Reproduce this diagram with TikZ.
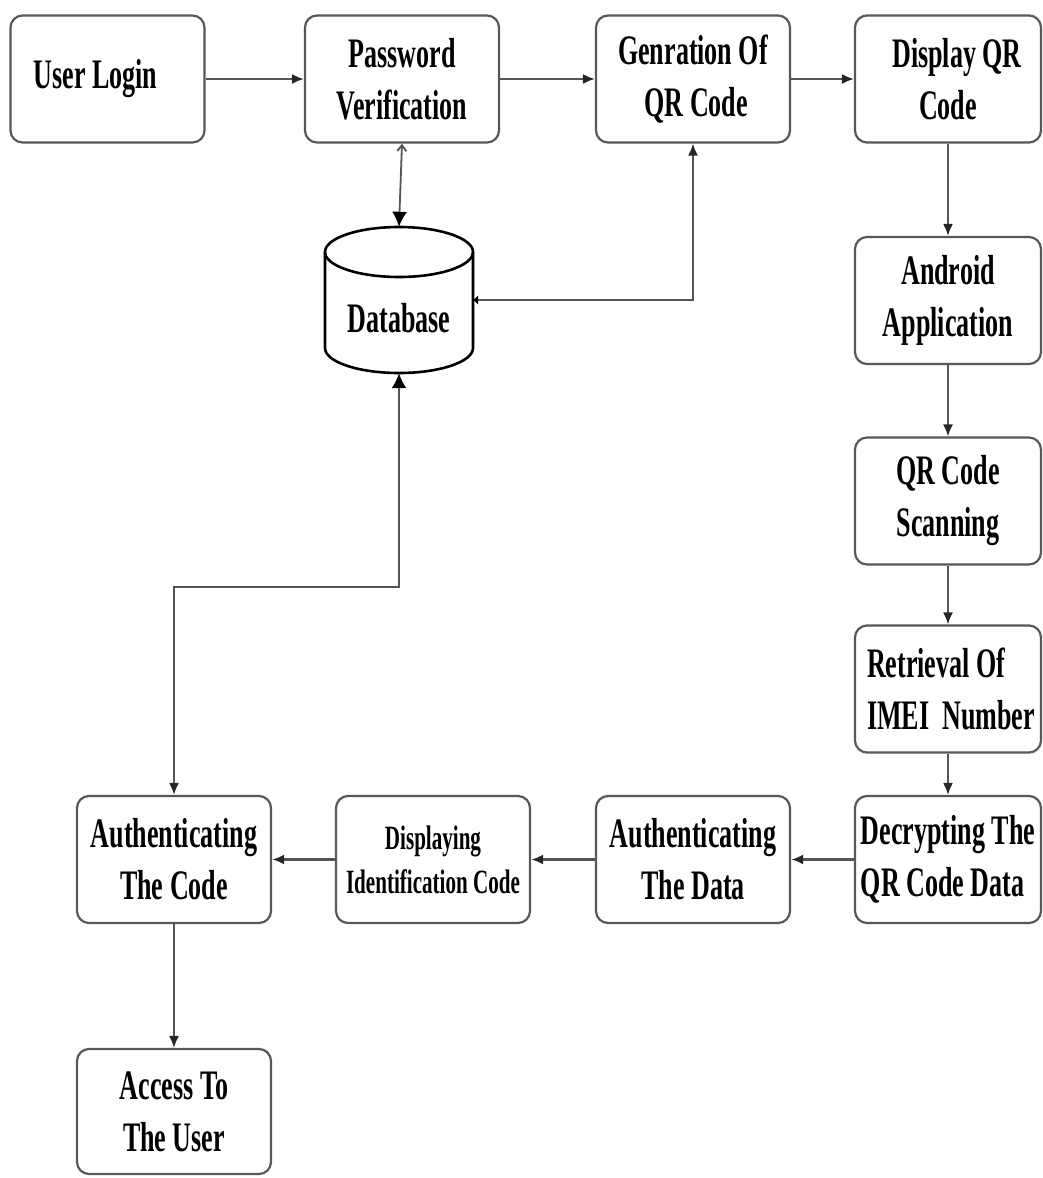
\documentclass[tikz,border=0pt]{standalone}
\usepackage{fontspec}
\setmainfont{Liberation Serif}[FakeStretch=0.62]
\usetikzlibrary{arrows.meta}
\definecolor{edgegray}{RGB}{88,88,88}
\definecolor{linegray}{RGB}{85,85,85}
\tikzset{
  stepbox/.style={draw=edgegray, line width=2.2pt, rounded corners=12pt, fill=white,
    minimum width=194pt, minimum height=127pt, inner sep=0pt, align=center,
    font=\bfseries\fontsize{42}{52}\selectfont},
  rightbox/.style={stepbox, minimum width=186pt},
  smalltext/.style={font=\bfseries\fontsize{34}{44}\selectfont},
  flowtip/.tip={Latex[length=12pt,width=10pt,color=black!85]},
  bigtip/.tip={Latex[length=15pt,width=15pt,color=black]},
  flow/.style={draw=linegray, line width=1.8pt, -{flowtip}},
  heavyflow/.style={flow, line width=2.8pt},
  dbline/.style={draw=black, line width=2.6pt},
}
\begin{document}
\begin{tikzpicture}[x=1pt, y={(0pt,-1pt)}]
\useasboundingbox (0,0) rectangle (1042,1178);

% top row
\node[stepbox] (login) at (107.5,79) {User Login\hspace*{24pt}};
\node[stepbox] (pwd)   at (402,79)  {Password\\Verification};
\node[stepbox] (gen)   at (693,79)  {Genration Of\\\ QR Code};
\node[rightbox] (disp) at (948,79)  {\hspace*{18pt}Display QR\\Code};

% right column
\node[rightbox] (android) at (948,300.5) {Android\\Application};
\node[rightbox] (scan)    at (948,501)   {QR Code\\Scanning};
\node[rightbox, align=left] (retr) at (948,689) {\hspace*{6pt}Retrieval Of\\\hspace*{6pt}IMEI~~Number};
\node[rightbox, align=left] (decr) at (948,859.5) {Decrypting The\\QR Code Data};

% bottom row
\node[stepbox] (authd)  at (693,859.5) {Authenticating\\The Data};
\node[stepbox, smalltext] (dispid) at (433,859.5) {Displaying\\Identification Code};
\node[stepbox] (authc)  at (174,859.5) {Authenticating\\The Code};
\node[stepbox, minimum height=125pt] (access) at (174,1111.5) {Access To\\The User};

% database cylinder
\node[minimum width=148pt, minimum height=146pt, inner sep=0pt,
      label={[font=\bfseries\fontsize{42}{52}\selectfont, yshift=-18pt]center:Database}] (db) at (399,300) {};
\draw[dbline] (399,252) ellipse [x radius=74pt, y radius=25pt];
\draw[dbline] (325,252) -- (325,348)
  arc [start angle=180, end angle=360, x radius=74pt, y radius=25pt] -- (473,252);

% main flow
\draw[flow] (login) -- (pwd);
\draw[flow] (pwd) -- (gen);
\draw[flow] (gen) -- (disp);
\draw[flow] (disp) -- (android);
\draw[flow] (android) -- (scan);
\draw[flow] (scan) -- (retr);
\draw[flow] (retr) -- (decr);
\draw[heavyflow] (decr) -- (authd);
\draw[heavyflow] (authd) -- (dispid);
\draw[heavyflow] (dispid) -- (authc);
\draw[flow] (authc) -- (access);

% database links
\draw[draw=linegray, line width=1.8pt, {Straight Barb[length=6pt,width=9pt]}-{bigtip}]
  (pwd.south) -- (db.north);
\draw[draw=linegray, line width=1.8pt, {Latex[length=5pt,width=10pt,color=black]}-{flowtip}]
  (db.east) -- (gen.south |- db.east) -- (gen.south);
\draw[draw=linegray, line width=1.8pt, {bigtip}-{flowtip}]
  (db.south) -- (db.south |- 0,587) -- (authc.north |- 0,587) -- (authc.north);
\end{tikzpicture}
\end{document}
